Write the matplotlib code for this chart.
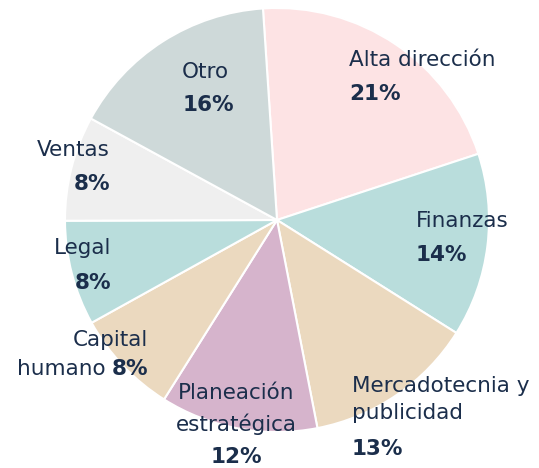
import matplotlib
matplotlib.use("Agg")
import matplotlib.pyplot as plt

categories = ["Alta dirección", "Finanzas", "Mercadotecnia y publicidad",
              "Planeación estratégica", "Capital humano", "Legal", "Ventas", "Otro"]
values = [21, 14, 13, 12, 8, 8, 8, 16]
colors = ["#FDE3E4", "#B9DDDC", "#EBD9BF", "#D6B4CC", "#EBD9BF", "#B9DDDC", "#EFEFEF", "#CED9D9"]

W, H = 539, 468
fig = plt.figure(figsize=(W / 100, H / 100), dpi=100)
ax = fig.add_axes([0, 0, 1, 1])

ax.pie(values, colors=colors, startangle=93.8, counterclock=False,
       center=(277, H - 220), radius=212, frame=True,
       wedgeprops=dict(edgecolor="white", linewidth=1.5))
ax.set_xlim(0, W)
ax.set_ylim(0, H)
ax.set_aspect("equal")
ax.axis("off")

TC = "#1B2E4B"
FAM = ["DejaVu Sans"]
FS = 15.5

def t(x, y, s, ha="left", bold=False):
    ax.text(x, H - y, s, ha=ha, va="center", color=TC, fontsize=FS,
            family=FAM, fontweight="bold" if bold else "normal")

# Alta dirección
t(349, 60, "Alta dirección")
t(349, 94, f"{values[0]}%", bold=True)
# Finanzas
t(416, 221, "Finanzas")
t(416, 255, f"{values[1]}%", bold=True)
# Mercadotecnia
t(352, 386, "Mercadotecnia y")
t(352, 413, "publicidad")
t(352, 449, f"{values[2]}%", bold=True)
# Planeación
t(236, 393, "Planeación", ha="center")
t(236, 424, "estratégica", ha="center")
t(236, 457, f"{values[3]}%", ha="center", bold=True)
# Capital humano
t(148, 340, "Capital", ha="right")
t(148, 369, f"{values[4]}%", ha="right", bold=True)
t(106, 369, "humano", ha="right")
# Legal
t(111, 248, "Legal", ha="right")
t(111, 283, f"{values[5]}%", ha="right", bold=True)
# Ventas
t(110, 150, "Ventas", ha="right")
t(110, 184, f"{values[6]}%", ha="right", bold=True)
# Otro
t(205, 72, "Otro", ha="center")
t(208, 105, f"{values[7]}%", ha="center", bold=True)

fig.savefig("out.png", dpi=100)
